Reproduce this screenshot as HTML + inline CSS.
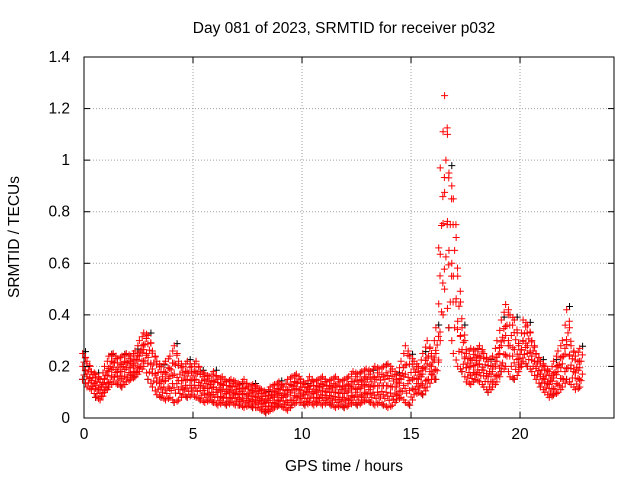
<!DOCTYPE html>
<html><head><meta charset="utf-8"><style>
html,body{margin:0;padding:0;background:#fff}
svg{display:block;font-family:"Liberation Sans",sans-serif}
</style></head><body>
<svg id="chart" width="640" height="480">
<text x="344" y="33" font-size="15.5" text-anchor="middle">Day 081 of 2023, SRMTID for receiver p032</text>
<text x="344" y="471" font-size="15.5" text-anchor="middle">GPS time / hours</text>
<text transform="translate(19,237) rotate(-90)" font-size="15.5" text-anchor="middle">SRMTID / TECUs</text>
<g id="grid"></g>
<g id="marks"></g>
<rect x="84" y="57" width="530" height="361" fill="none" stroke="#000" stroke-width="1"/>
<g id="ticks"></g>
</svg>
<script>
const xTicks=[0,5,10,15,20];
const yTicks=[0,0.2,0.4,0.6,0.8,1,1.2,1.4];
const yTickLabels=["0","0.2","0.4","0.6","0.8","1","1.2","1.4"];
const hours=[0,0.2,0.4,0.6,0.8,1,1.2,1.4,1.6,1.8,2,2.2,2.4,2.6,2.8,3,3.2,3.4,3.6,3.8,4,4.2,4.4,4.6,4.8,5,5.2,5.4,5.6,5.8,6,6.2,6.4,6.6,6.8,7,7.2,7.4,7.6,7.8,8,8.2,8.4,8.6,8.8,9,9.2,9.4,9.6,9.8,10,10.2,10.4,10.6,10.8,11,11.2,11.4,11.6,11.8,12,12.2,12.4,12.6,12.8,13,13.2,13.4,13.6,13.8,14,14.2,14.4,14.6,14.8,15,15.2,15.4,15.6,15.8,16,16.2,16.4,16.6,16.8,17,17.2,17.4,17.6,17.8,18,18.2,18.4,18.6,18.8,19,19.2,19.4,19.6,19.8,20,20.2,20.4,20.6,20.8,21,21.2,21.4,21.6,21.8,22,22.2,22.4,22.6,22.8];
const srmtidLow=[.15,.12,.11,.08,.07,.10,.12,.14,.13,.12,.14,.15,.16,.18,.20,.15,.12,.09,.08,.07,.08,.06,.07,.09,.08,.09,.08,.07,.06,.07,.06,.05,.06,.05,.06,.05,.05,.04,.05,.04,.04,.03,.02,.03,.04,.05,.04,.03,.05,.06,.06,.05,.06,.05,.06,.05,.06,.05,.04,.05,.04,.05,.06,.05,.06,.07,.06,.05,.06,.05,.04,.05,.07,.08,.06,.05,.09,.10,.09,.12,.15,.15,.30,.50,.35,.25,.20,.18,.14,.13,.15,.14,.12,.10,.12,.14,.18,.20,.16,.15,.18,.22,.20,.18,.15,.12,.10,.08,.09,.10,.12,.15,.13,.11,.12];
const srmtidHigh=[.25,.22,.18,.17,.15,.20,.24,.25,.23,.24,.25,.24,.26,.30,.33,.32,.26,.22,.20,.22,.24,.28,.22,.20,.22,.20,.22,.18,.17,.16,.18,.15,.16,.14,.15,.14,.13,.15,.12,.13,.12,.11,.10,.12,.13,.14,.12,.15,.16,.17,.15,.13,.16,.14,.15,.16,.14,.15,.16,.14,.15,.16,.18,.17,.18,.19,.18,.20,.19,.20,.21,.19,.17,.22,.28,.24,.22,.20,.25,.30,.25,.35,.97,1.25,.95,.85,.55,.35,.25,.27,.26,.28,.25,.22,.24,.30,.38,.44,.40,.38,.28,.38,.36,.30,.25,.22,.20,.18,.22,.26,.30,.42,.28,.24,.27];
const X0=84,X1=614,Y0=418,Y1=57,XMAX=24.31,YMAX=1.4;
const xs=v=>X0+(X1-X0)*v/XMAX, ys=v=>Y0-(Y0-Y1)*v/YMAX;
const NS="http://www.w3.org/2000/svg";
function mk(tag,attrs,parent){const e=document.createElementNS(NS,tag);for(const k in attrs)e.setAttribute(k,attrs[k]);parent.appendChild(e);return e;}
const grid=document.getElementById('grid'),ticks=document.getElementById('ticks'),marks=document.getElementById('marks');
xTicks.forEach(t=>{const x=xs(t);
 if(t>0){const g=mk('line',{x1:x,x2:x,y1:Y0,y2:Y1,stroke:'#a0a0a0','stroke-dasharray':'1,2'},grid);
 
 }
 mk('line',{x1:x,x2:x,y1:Y0,y2:Y0-6,stroke:'#000'},ticks);
 mk('line',{x1:x,x2:x,y1:Y1,y2:Y1+6,stroke:'#000'},ticks);
 const l=mk('text',{x:x,y:Y0+21,'font-size':15.5,'text-anchor':'middle'},ticks);l.textContent=t;
 
 });
yTicks.forEach((t,i)=>{const y=ys(t);
 if(i>0&&i<yTicks.length-1){const g=mk('line',{x1:X0,x2:X1,y1:y,y2:y,stroke:'#a0a0a0','stroke-dasharray':'1,2'},grid);
 
 }
 mk('line',{x1:X0,x2:X0+6,y1:y,y2:y,stroke:'#000'},ticks);
 mk('line',{x1:X1,x2:X1-6,y1:y,y2:y,stroke:'#000'},ticks);
 const l=mk('text',{x:X0-14,y:y+5,'font-size':15.5,'text-anchor':'end'},ticks);l.textContent=yTickLabels[i];
 
 });
function plus(x,y,c){let d=`M${x-3.5},${y}h7M${x},${y-3.5}v7`;const p=mk('path',{d:d,stroke:c,'stroke-width':1,fill:'none'},marks);
 
 }
hours.forEach((h,i)=>{if(i%3===0){plus(xs(h+0.07),ys(srmtidHigh[i]*1.03),'#000');plus(xs(h-0.07),ys(srmtidLow[i]),'#000');}});
hours.forEach((h,i)=>{const lo=srmtidLow[i],hi=srmtidHigh[i];
 const n=7;for(let k=0;k<n;k++){const f=k/(n-1);const v=lo+(hi-lo)*f;const dx=((k%3)-1)*0.06;plus(xs(h+dx),ys(v),'#f00');}
 if(i<hours.length-1){const lo2=srmtidLow[i+1],hi2=srmtidHigh[i+1];for(let k=0;k<5;k++){const f=k/4;const v=(lo+lo2)/2+((hi+hi2)/2-(lo+lo2)/2)*f;plus(xs(h+0.1+((k%2)?0.03:-0.03)),ys(v),'#f00');}}
});
</script>
</body></html>
